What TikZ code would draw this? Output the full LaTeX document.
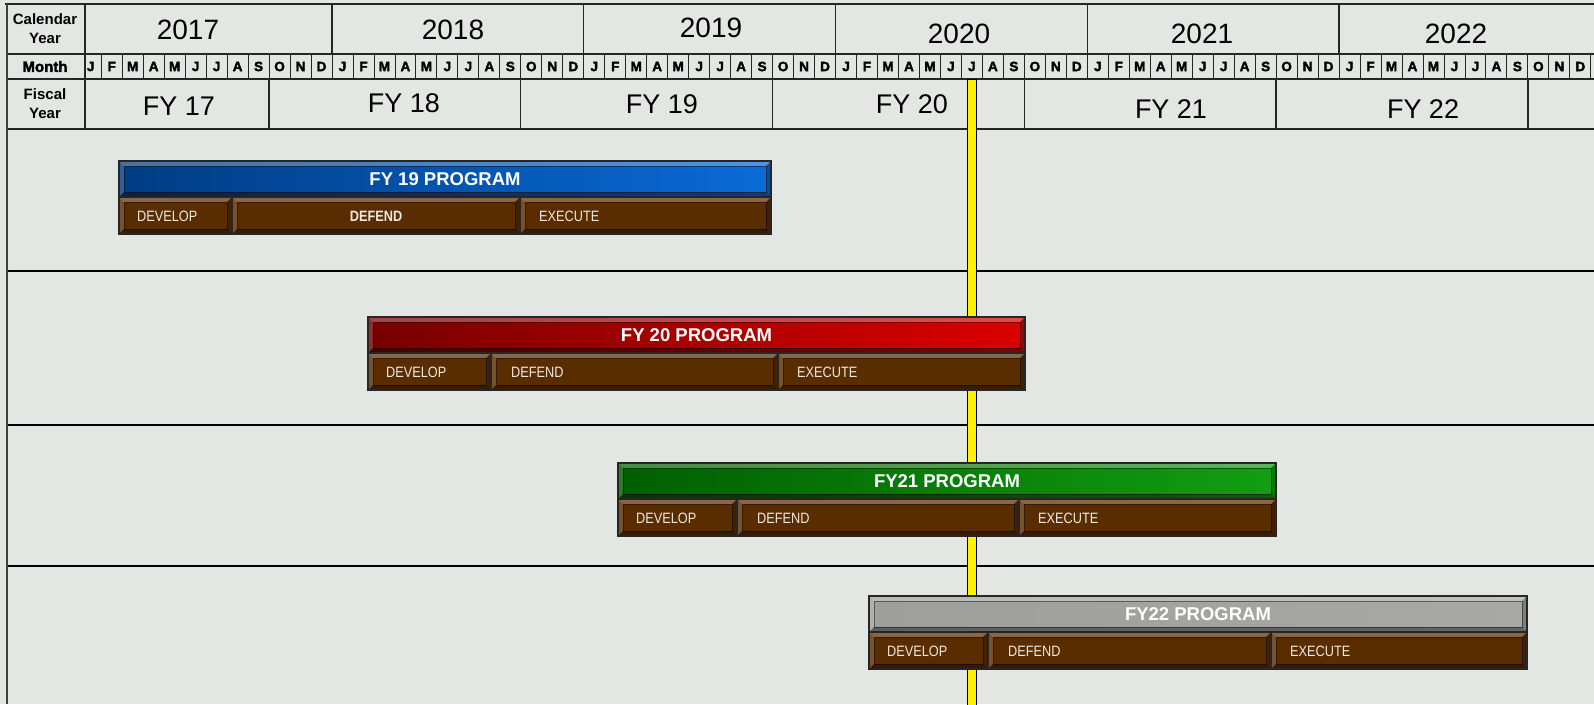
\documentclass[tikz,border=0pt]{standalone}
\usepackage{fontspec}
\setmainfont{Liberation Sans}
\newfontfamily\heavyfont{Liberation Sans}[BoldFeatures={FakeBold=2.5}]

\definecolor{chartbg}{HTML}{E3E7E3}
\definecolor{progbrown}{HTML}{5A2D00}
\definecolor{phasetext}{HTML}{EDE8E2}
\definecolor{blueL}{HTML}{003C82}
\definecolor{blueR}{HTML}{0A6BD8}
\definecolor{redL}{HTML}{780000}
\definecolor{redR}{HTML}{DC0000}
\definecolor{greenL}{HTML}{005F00}
\definecolor{greenR}{HTML}{129E12}
\definecolor{greyL}{HTML}{9E9E9C}
\definecolor{greyR}{HTML}{A8A8A6}

\tikzset{
  gridline/.style={black!85, line width=1.3pt},
  monline/.style={black!85, line width=0.9pt},
  sepline/.style={black, line width=1.5pt},
  nowline/.style={fill=yellow, draw=black, line width=0.8pt},
  hdrlabel/.style={font=\bfseries\fontsize{15}{19}\selectfont, align=center, inner sep=0pt},
  yearlbl/.style={font=\fontsize{28}{30}\selectfont, inner sep=0pt},
  fylbl/.style={font=\fontsize{27}{30}\selectfont, inner sep=0pt},
  monlbl/.style={font=\heavyfont\bfseries\fontsize{13.5}{13.5}\selectfont, inner sep=0pt},
  bartitle/.style={font=\bfseries\fontsize{18.5}{20}\selectfont, text=white, inner sep=0pt},
  phase/.style={font=\fontsize{15}{16}\selectfont, text=phasetext, inner sep=0pt, anchor=west, xscale=.85},
  phasemid/.style={phase, font=\bfseries\fontsize{15}{16}\selectfont, anchor=center},
}

% bevelled box: left, top, right, bottom, fill options
\newcommand{\bevelbox}[5]{%
  \path[#5] (#1,#2) rectangle (#3,#4);
  \fill[white,opacity=.28] (#1,#2) -- (#3,#2) -- (#3-5,#2+5) -- (#1+5,#2+5) -- cycle;
  \fill[white,opacity=.18] (#1,#2) -- (#1+5,#2+5) -- (#1+5,#4-5) -- (#1,#4) -- cycle;
  \fill[black,opacity=.4] (#1,#4) -- (#1+5,#4-5) -- (#3-5,#4-5) -- (#3,#4) -- cycle;
  \fill[black,opacity=.25] (#3,#2) -- (#3-5,#2+5) -- (#3-5,#4-5) -- (#3,#4) -- cycle;
  \draw[black,opacity=.45,line width=.5pt] (#1+5,#2+5) rectangle (#3-5,#4-5);
  \draw[black!85,line width=1.2pt] (#1,#2) rectangle (#3,#4);
}

\begin{document}
\begin{tikzpicture}[x=1pt,y=-1pt]

\useasboundingbox (0,0) rectangle (1594,704);
\clip (0,0) rectangle (1594,704);
\fill[chartbg] (0,0) rectangle (1594,704);

    % row separators
    \foreach \ys in {271,425,566}
      \draw[sepline] (6,\ys) -- (1594,\ys);

    % header grid
    \draw[gridline, line width=2pt] (5,4) -- (1594,4);
    \foreach \yh in {54,79,129}
      \draw[gridline] (6,\yh) -- (1594,\yh);
    \draw[gridline] (85,4) -- (85,129);
    \foreach \k in {12,24,...,60}
      \draw[gridline] (80.25+\k*20.98,4) -- (80.25+\k*20.98,54);%calendar years
    \foreach \k in {1,...,72}
      \draw[monline] (80.25+\k*20.98,54) -- (80.25+\k*20.98,79);
    \foreach \k in {9,21,...,69}
      \draw[gridline] (80.25+\k*20.98,79) -- (80.25+\k*20.98,129);%fiscal years
    \draw[black!75, line width=2pt] (6.5,4) -- (6.5,704);

    \node[hdrlabel] (calhdr) at (45,29) {Calendar\\Year};
    \node[hdrlabel, font=\heavyfont\bfseries\fontsize{15}{15}\selectfont] (monhdr) at (45,66.5) {Month};
    \node[hdrlabel] (fischdr) at (45,104) {Fiscal\\Year};

    \foreach \yr/\xt/\yt in {2017/188/30, 2018/453/30, 2019/711/28, 2020/959/34, 2021/1202/34, 2022/1456/34}
      \node[yearlbl] (cy\yr) at (\xt,\yt) {\yr};

    \foreach \yy in {0,...,5}
      \foreach \m [count=\k from 0] in {J,F,M,A,M,J,J,A,S,O,N,D}
        \node[monlbl] (m\yy-\k) at (80.25+12*\yy*20.98+\k*20.98+10.49,66.5) {\m};

    \foreach \fy/\xt/\yt in {17/179/106, 18/404/103, 19/662/104, 20/912/104, 21/1171/109, 22/1423/109}
      \node[fylbl] (fy\fy) at (\xt,\yt) {FY \fy};

    % today line
    \filldraw[nowline] (967,79) rectangle (976,706);

    % programs
    \foreach \fy/\title/\xa/\xb/\xc/\xd/\ya/\cl/\cr/\dst/\dx in {
        19/{FY 19 PROGRAM}/119/232/520/771/161/blueL/blueR/phasemid/376,
        20/{FY 20 PROGRAM}/368/491/778/1025/317/redL/redR/phase/511,
        21/{FY21 PROGRAM}/618/737/1019/1276/463/greenL/greenR/phase/757,
        22/{FY22 PROGRAM}/869/988/1271/1527/596/greyL/greyR/phase/1008}
    {
      \bevelbox{\xa}{\ya}{\xd}{\ya+36}{left color=\cl,right color=\cr}
      \bevelbox{\xa}{\ya+36}{\xb}{\ya+73}{fill=progbrown}
      \bevelbox{\xb}{\ya+36}{\xc}{\ya+73}{fill=progbrown}
      \bevelbox{\xc}{\ya+36}{\xd}{\ya+73}{fill=progbrown}
      \node[bartitle] (title\fy) at ({(\xa+\xd)/2},\ya+18) {\title};
      \node[phase] (dev\fy) at (\xa+18,\ya+55) {DEVELOP};
      \node[\dst] (def\fy) at (\dx,\ya+55) {DEFEND};
      \node[phase] (exe\fy) at (\xc+19,\ya+55) {EXECUTE};
    }

\end{tikzpicture}
\end{document}
